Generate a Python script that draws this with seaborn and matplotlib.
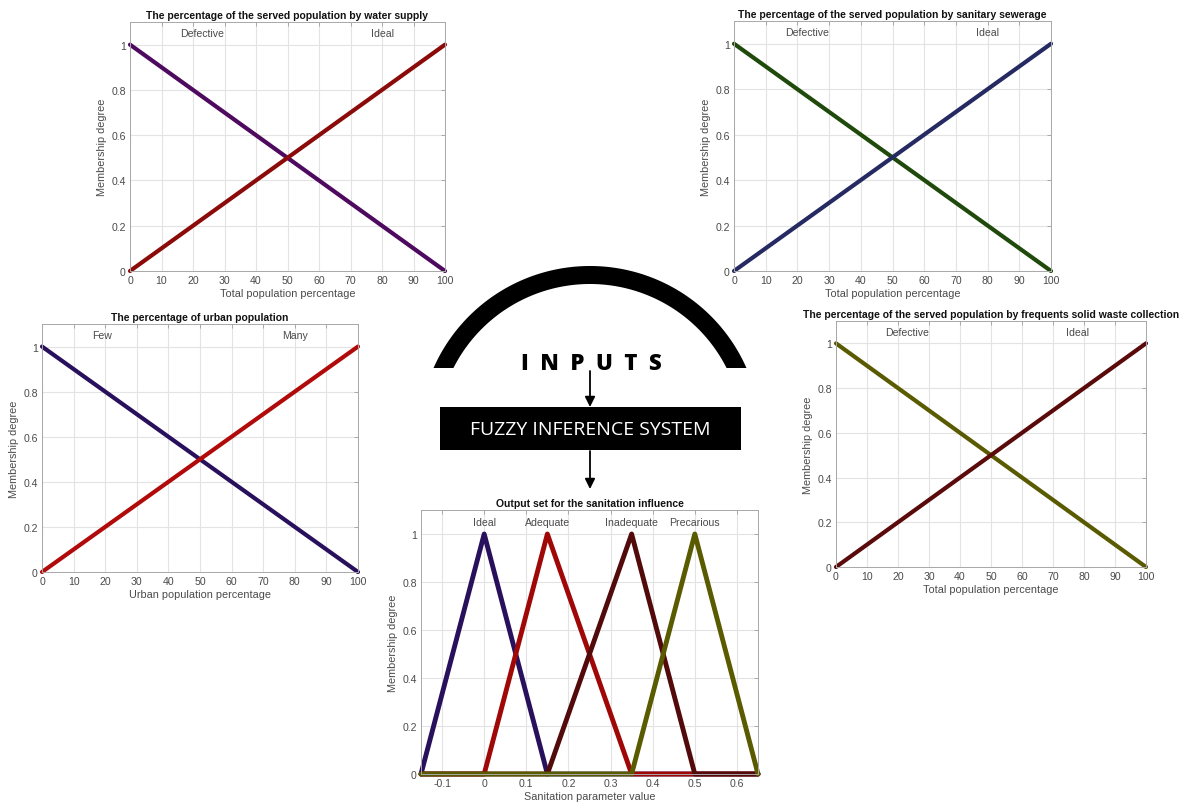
import numpy as np
import pandas as pd
import matplotlib
matplotlib.use("Agg")
import matplotlib.pyplot as plt
import seaborn as sns
from matplotlib.patches import Polygon, Rectangle

# ---------------- data ----------------
pct_x = [0, 100]
decreasing = [1, 0]
increasing = [0, 1]

water_sets = ["Defective", "Ideal"]
sewer_sets = ["Defective", "Ideal"]
urban_sets = ["Few", "Many"]
waste_sets = ["Defective", "Ideal"]

water_label_x = [23, 80]
sewer_label_x = [23, 80]
urban_label_x = [19, 80]
waste_label_x = [23, 78]

out_x = [-0.15, 0, 0.15, 0.35, 0.5, 0.65]
out_sets = ["Ideal", "Adequate", "Inadequate", "Precarious"]
out_ideal = [0, 1, 0, 0, 0, 0]
out_adequate = [0, 0, 1, 0, 0, 0]
out_inadequate = [0, 0, 0, 1, 0, 0]
out_precarious = [0, 0, 0, 0, 1, 0]

pct_ticks = [0, 10, 20, 30, 40, 50, 60, 70, 80, 90, 100]
deg_ticks = [0, 0.2, 0.4, 0.6, 0.8, 1]
deg_ticklabels = ["0", "0.2", "0.4", "0.6", "0.8", "1"]
out_ticks = [-0.1, 0, 0.1, 0.2, 0.3, 0.4, 0.5, 0.6]
out_ticklabels = ["-0.1", "0", "0.1", "0.2", "0.3", "0.4", "0.5", "0.6"]

# ---------------- style ----------------
sns.set_style("white")
plt.rcParams["font.family"] = ["Liberation Sans", "DejaVu Sans"]

W, H = 1184, 812
fig = plt.figure(figsize=(W / 100, H / 100), dpi=100)
fig.patch.set_facecolor("white")

TXT = "#4a4a4a"
TITLE_FS = 7.5
FS = 7.6


def px_axes(l, t, r, b):
    return fig.add_axes([l / W, 1 - b / H, (r - l) / W, (b - t) / H])


def style_axes(ax, xlim, xticks, xticklabels, title, xlabel):
    ax.set_xlim(*xlim)
    ax.set_ylim(0, 1.1)
    ax.set_xticks(xticks)
    ax.set_xticklabels(xticklabels)
    ax.set_yticks(deg_ticks)
    ax.set_yticklabels(deg_ticklabels)
    ax.grid(True, color="#e3e3e3", linewidth=0.8)
    ax.set_axisbelow(True)
    for s in ax.spines.values():
        s.set_color("#a8a8a8")
        s.set_linewidth(0.7)
        s.set_visible(True)
    ax.tick_params(direction="in", length=3, width=0.6, color="#a0a0a0",
                   labelsize=FS, labelcolor=TXT, top=True, right=True, pad=3)
    ax.set_title(title, fontsize=TITLE_FS, fontweight="bold", color="#111111", pad=3)
    ax.set_xlabel(xlabel, fontsize=FS + 0.2, color=TXT, labelpad=2)
    ax.set_ylabel("Membership degree", fontsize=FS + 0.2, color=TXT, labelpad=3)
    leg = ax.get_legend()
    if leg is not None:
        leg.remove()


def two_set_panel(box, names, colors, label_x, title, xlabel):
    ax = px_axes(*box)
    df = pd.DataFrame({
        "x": pct_x * 2,
        "y": decreasing + increasing,
        "set": [names[0]] * 2 + [names[1]] * 2,
    })
    sns.lineplot(data=df, x="x", y="y", hue="set", palette=dict(zip(names, colors)),
                 ax=ax, linewidth=3.0, sort=False, estimator=None, legend=False)
    for ln in ax.lines:
        ln.set_clip_on(False)
        ln.set_solid_capstyle("round")
    for name, lx in zip(names, label_x):
        ax.text(lx, 1.05, name, ha="center", va="center", fontsize=FS, color=TXT)
    style_axes(ax, (0, 100), pct_ticks, [str(t) for t in pct_ticks], title, xlabel)
    return ax


two_set_panel((130, 23, 445, 272), water_sets, ["#4e0a5e", "#8b0a0a"], water_label_x,
              "The percentage of the served population by water supply",
              "Total population percentage")
two_set_panel((734, 22, 1051, 272), sewer_sets, ["#1f4a0c", "#262a62"], sewer_label_x,
              "The percentage of the served population by sanitary sewerage",
              "Total population percentage")
two_set_panel((42, 325, 358, 573), urban_sets, ["#28105c", "#b00a0a"], urban_label_x,
              "The percentage of urban population",
              "Urban population percentage")
two_set_panel((836, 322, 1146, 568), waste_sets, ["#5a5a00", "#5a0a0a"], waste_label_x,
              "The percentage of the served population by frequents solid waste collection",
              "Total population percentage")

# output panel
axo = px_axes(421, 511, 758, 775)
out_vals = [out_ideal, out_adequate, out_inadequate, out_precarious]
dfo = pd.DataFrame({
    "x": out_x * 4,
    "y": sum(out_vals, []),
    "set": sum([[n] * len(out_x) for n in out_sets], []),
})
out_colors = ["#28105c", "#a00808", "#520a0a", "#5a5a00"]
sns.lineplot(data=dfo, x="x", y="y", hue="set", palette=dict(zip(out_sets, out_colors)),
             ax=axo, linewidth=3.5, sort=False, estimator=None, legend=False)
for ln in axo.lines:
    ln.set_clip_on(False)
for name, vals in zip(out_sets, out_vals):
    peak = out_x[int(np.argmax(vals))]
    axo.text(peak, 1.05, name, ha="center", va="center", fontsize=FS, color=TXT)
style_axes(axo, (-0.15, 0.65), out_ticks, out_ticklabels,
           "Output set for the sanitation influence", "Sanitation parameter value")

# ---------------- central diagram ----------------
ov = fig.add_axes([0, 0, 1, 1], zorder=-5)
ov.set_xlim(0, W)
ov.set_ylim(H, 0)
ov.axis("off")
ov.patch.set_alpha(0)

cx, cy, R, r, ycut = 590, 438, 171, 153, 369
ao = np.arccos(np.clip((cy - ycut) / R, -1, 1))
ai = np.arccos(np.clip((cy - ycut) / r, -1, 1))
to = np.linspace(-ao, ao, 200)
ti = np.linspace(ai, -ai, 200)
pts = np.concatenate([
    np.column_stack([cx + R * np.sin(to), cy - R * np.cos(to)]),
    np.column_stack([cx + r * np.sin(ti), cy - r * np.cos(ti)]),
])
ov.add_patch(Polygon(pts, closed=True, color="black", lw=0))

ov.text(cx + 1, 364, "I  N  P  U  T  S", ha="center", va="center", fontsize=16,
        fontweight="heavy", family=["Open Sans", "DejaVu Sans"], color="black")
ov.annotate("", xy=(cx, 408), xytext=(cx, 372),
            arrowprops=dict(arrowstyle="-|>,head_length=0.6,head_width=0.3",
                            color="black", lw=1.3, shrinkA=0, shrinkB=0))
ov.add_patch(Rectangle((440, 408), 301, 43, color="black", lw=0))
ov.text(cx, 430, "FUZZY INFERENCE SYSTEM", ha="center", va="center", fontsize=14,
        family=["Open Sans", "DejaVu Sans"], color="white")
ov.annotate("", xy=(cx, 490), xytext=(cx, 452),
            arrowprops=dict(arrowstyle="-|>,head_length=0.6,head_width=0.3",
                            color="black", lw=1.3, shrinkA=0, shrinkB=0))

fig.savefig("out.png", dpi=100, facecolor="white")
